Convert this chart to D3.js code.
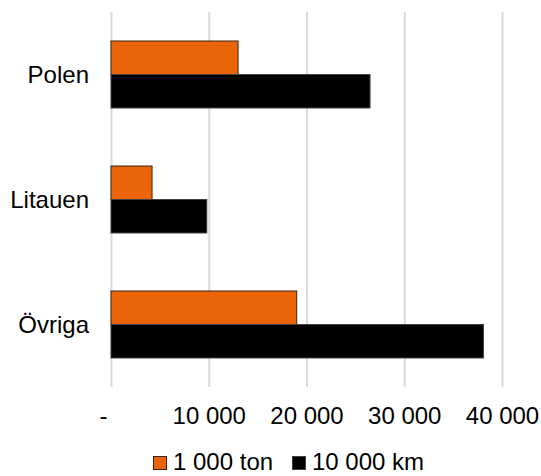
<!DOCTYPE html>
<html>
<head>
<meta charset="utf-8">
<script src="https://cdn.jsdelivr.net/npm/d3@7"></script>
<style>
  body { margin: 0; background: #fff; }
  svg { font-family: Arial, 'Liberation Sans', sans-serif; }
  .lbl { font-size: 24px; fill: #000; }
</style>
</head>
<body>
<div id="container"></div>
<script>
const categories = ['Polen', 'Litauen', 'Övriga'];
const seriesNames = ['1 000 ton', '10 000 km'];
const tonValues = [13000, 4200, 19000];
const kmValues = [26500, 9800, 38100];
const tickValues = [0, 10000, 20000, 30000, 40000];

const w = 541,
  h = 476;
const plotLeft = 111,
  plotRight = 502,
  plotTop = 12,
  plotBottom = 387;
const colors = ['#EB6409', '#000000'];
const strokes = ['#3a2410', '#404040'];

const svg = d3.select('#container').append('svg').attr('width', w).attr('height', h);

const sv = d3.formatLocale({ decimal: ',', thousands: ' ', grouping: [3], currency: ['', ''] });
const fmt = sv.format(',d');

const xScale = d3.scaleLinear().domain([0, 40000]).range([plotLeft, plotRight]);
const yScale = d3.scaleBand().domain(categories).range([plotTop, plotBottom]).padding(0);
const ySub = d3
  .scaleBand()
  .domain(seriesNames)
  .range([0, yScale.bandwidth()])
  .paddingInner(0)
  .paddingOuter(0.866);

// gridlines
const grid = svg
  .append('g')
  .attr('transform', 'translate(0, ' + plotBottom + ')')
  .call(d3.axisBottom(xScale).tickValues(tickValues).tickSize(-(plotBottom - plotTop)).tickFormat(''));
grid.select('.domain').remove();
grid.selectAll('line').attr('stroke', '#d9d9d9').attr('stroke-width', 2);

// tick labels
const xAxis = svg
  .append('g')
  .attr('transform', 'translate(0, ' + plotBottom + ')')
  .call(
    d3
      .axisBottom(xScale)
      .tickValues(tickValues)
      .tickSize(0)
      .tickFormat((d) => (d === 0 ? '-' : fmt(d)))
  );
xAxis.select('.domain').remove();
xAxis.attr('font-size', null).attr('font-family', null);
xAxis
  .selectAll('text')
  .attr('class', 'lbl')
  .attr('fill', '#000')
  .attr('y', 37)
  .attr('dy', 0)
  .attr('x', (d) => (d === 0 ? -8 : 0));

// category labels
svg
  .append('g')
  .selectAll('text')
  .data(categories)
  .enter()
  .append('text')
  .attr('class', 'lbl')
  .attr('x', plotLeft - 22)
  .attr('y', (d) => yScale(d) + yScale.bandwidth() / 2)
  .attr('dy', '0.35em')
  .attr('text-anchor', 'end')
  .text((d) => d);

// bars
const rows = categories.map((c, i) => ({ cat: c, vals: [tonValues[i], kmValues[i]] }));
const groups = svg
  .append('g')
  .selectAll('g')
  .data(rows)
  .enter()
  .append('g')
  .attr('transform', (d) => 'translate(0, ' + yScale(d.cat) + ')');

groups
  .selectAll('rect')
  .data((d) => d.vals.map((v, j) => ({ v: v, s: seriesNames[j], j: j })))
  .enter()
  .append('rect')
  .attr('x', xScale(0))
  .attr('y', (d) => ySub(d.s))
  .attr('width', (d) => xScale(d.v) - xScale(0))
  .attr('height', ySub.bandwidth())
  .attr('fill', (d) => colors[d.j])
  .attr('stroke', (d) => strokes[d.j])
  .attr('stroke-width', 1);

// legend
const legendX = [153, 292];
const legend = svg
  .append('g')
  .selectAll('g')
  .data(seriesNames)
  .enter()
  .append('g')
  .attr('transform', (d, i) => 'translate(' + legendX[i] + ', 456)');
legend
  .append('rect')
  .attr('width', 13)
  .attr('height', 13)
  .attr('x', 0.5)
  .attr('y', 0.5)
  .attr('fill', (d, i) => colors[i])
  .attr('stroke', (d, i) => strokes[i])
  .attr('stroke-width', 1);
legend
  .append('text')
  .attr('class', 'lbl')
  .attr('x', 20)
  .attr('y', 14)
  .text((d) => d);
</script>
</body>
</html>
